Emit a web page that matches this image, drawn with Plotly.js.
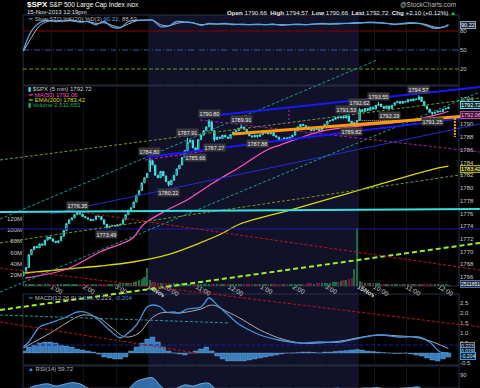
<!DOCTYPE html>
<html><head><meta charset="utf-8">
<script src="https://cdn.plot.ly/plotly-3.0.1.min.js"></script>
<style>html,body{margin:0;padding:0;background:#000;}#chart{width:480px;height:388px;}</style>
</head><body><div id="chart"></div>
<script>
// ---------------- DATA ----------------
// 5-minute bars: 0..46 = 13-Nov 12:05-3:55, 47..124 = 14-Nov, 125..158 = 15-Nov
const closes = [
1766.8,1767.5,1769.5,1770.3,1770.8,1770.6,1771.2,1771.0,1771.8,1772.3,
1772.0,1771.6,1771.4,1771.7,1772.4,1773.3,1774.4,1775.0,1775.3,1775.8,
1776.1,1775.9,1775.5,1775.3,1775.1,1774.9,1775.0,1775.6,1775.5,1775.0,
1774.3,1773.8,1774.0,1774.1,1774.0,1774.2,1774.3,1775.0,1775.8,1776.5,
1776.9,1777.8,1778.9,1779.6,1780.8,1781.6,1782.3,
1784.3,1783.6,1782.0,1781.6,1782.6,1781.9,1781.0,1780.5,1781.2,1782.0,
1783.0,1783.6,1784.8,1785.9,1787.2,1787.5,1786.3,1786.0,1787.6,1788.3,
1789.0,1789.6,1790.5,1789.0,1787.6,1788.0,1787.8,1788.3,1788.0,1787.8,
1788.4,1788.8,1789.0,1789.4,1789.6,1789.2,1788.6,1788.2,1788.0,1788.3,
1788.1,1788.4,1788.6,1788.9,1788.5,1788.7,1788.2,1788.0,1787.6,1787.5,
1787.9,1787.7,1788.0,1788.3,1789.0,1789.6,1790.0,1789.8,1789.6,1789.2,
1789.0,1789.4,1789.2,1789.0,1789.5,1790.0,1790.5,1790.6,1790.8,1791.1,
1791.0,1791.2,1791.0,1791.3,1790.5,1790.0,1790.3,1790.62,
1792.3,1792.0,1792.5,1792.2,1792.7,1792.4,1793.0,1793.2,1792.8,1792.5,
1792.9,1792.5,1793.0,1793.4,1793.6,1793.3,1793.6,1793.5,1793.9,1793.7,
1794.0,1793.9,1794.3,1793.6,1792.9,1792.4,1791.9,1791.7,1791.9,1792.1,
1792.0,1792.4,1792.5,1792.72
];
const sessionOpenBars = [0, 47, 125];
const sessionOpenPrices = [1766.2, 1782.6, 1790.66];
// labelled extremes: bar, kind, price
const extremeBars   = [20,31,47,54,61,64,69,71,81,87,120,122,125,132,136,147,152];
const extremeKinds  = ['H','L','H','L','H','L','H','L','H','L','H','L','H','H','L','H','L'];
const extremePrices = [1776.35,1773.49,1784.80,1780.22,1787.91,1785.66,1790.80,1787.27,1789.91,1787.88,1791.53,1789.82,1792.62,1793.55,1792.19,1794.57,1791.25];

// volume, millions
const volumeM = [
6,4,4,4,3,4,3,3,4,3, 3,3,4,3,3,4,3,3,4,3, 3,3,3,3,4,3,3,3,4,3, 3,4,4,3,4,4,5,5,6,5, 6,7,9,10,12,16,33,
10,8,7,6,6,5,5,5,4,5, 5,4,5,4,4,4,5,4,4,3, 3,3,3,4,3,3,3,3,3,3, 3,3,3,3,3,3,3,3,3,3,
3,3,3,3,3,4,3,3,3,3, 4,4,4,3,4,4,4,4,4,5, 5,4,5,5,6,5,6,6,7,8, 8,9,10,11,12,14,30,103,
9,7,6,6,5,5,5,5,4,4, 4,4,4,4,3,4,3,3,3,3, 3,3,3,4,3,3,3,3,3,3, 3,3,3,2.5
];

// moving averages (read at points along the curves)
const ma50Bars = [0.6,16.2,28.5,40.7,44.4,53.4,60.8,70.5,80.5,90.5,95.4,102.8,111.4,125.1,140,154.9,158];
const ma50Vals = [1765.84,1767.26,1769.93,1772.13,1774.18,1776.53,1778.11,1780.78,1783.30,1785.97,1786.75,1787.86,1788.96,1789.74,1790.37,1791.63,1792.06];
const ema200Bars = [0.6,16.2,28.5,40.7,53.4,65.7,74.2,80.5,99.1,125.1,151.1,158];
const ema200Vals = [1766.63,1767.26,1767.73,1768.36,1769.46,1771.35,1772.92,1774.33,1776.53,1779.68,1782.82,1783.42];

// Slow stochastic
const stoBars = [0,3,6,9,12,15,18,21,24,27,30,33,36,39,42,45,48,51,54,57,60,63,66,69,72,75,78,81,84,87,90,93,96,99,102,105,108,111,114,117,120,123,126,129,132,135,138,141,144,147,150,153,156,158];
const stoK = [50,80,93,97,95,96,97,94,95,90,95,86,85,95,97,97,97,87,88,95,94,93,89,92,91,92,90,91,90,91,90,91,89,90,91,90,91,92,91,92,92,93,93,94,93,92,90,92,93,92,88,84,86,90.22];
const stoD = [48,70,88,95,96,96,96,95,95,92,93,89,86,91,96,97,97,90,88,92,94,93,90,91,91,91,91,90,90,90,90,90,90,90,90,90,91,91,91,91,92,92,93,93,93,92,91,91,92,92,90,86,86,88.63];
const stoLevels = [80,50,20];

// MACD
const macdBars = [0,2,6,10,16,20,24,28,32,36,38,42,46,48,51,53,56,58,61,66,69,72,77,80,88,95,103,110,118,125,132,140,147,151,155,158];
const macdVals = [0.3,0.55,1.3,1.5,1.8,2.05,2.0,1.65,1.15,0.75,0.9,1.4,2.3,2.4,2.3,2.05,2.05,2.0,2.2,2.3,2.75,2.4,1.8,1.45,0.9,0.65,0.5,0.55,0.55,0.75,0.9,0.8,0.8,0.55,0.05,0.019];
const signalBars = [0,10,16,22,28,33,38,43,47,51,58,66,70,76,80,88,95,103,110,118,126,132,140,145,150,155,158];
const signalVals = [0.25,1.0,1.5,1.9,1.75,1.25,0.8,1.0,1.65,2.0,2.0,2.2,2.4,2.05,1.78,1.15,0.75,0.5,0.5,0.6,0.8,0.9,0.85,0.8,0.65,0.4,0.223];
const histBars = [0,2,4,6,8,10,12,14,16,18,20,22,24,26,28,30,32,34,36,38,40,42,44,46,48,50,52,54,56,58,60,62,64,66,68,70,72,74,76,78,80,82,84,86,88,90,92,94,96,98,100,102,104,106,108,110,112,114,116,118,120,122,124,126,128,130,132,134,136,138,140,142,144,146,148,150,152,154,156,158];
const histVals = [
0.1,0.3,0.4,0.5,0.55, 0.55,0.5,0.4,0.35,0.3, 0.2,0.15,0.1,0.05,-0.05, -0.2,-0.25,-0.3,-0.3,-0.2,
0.1,0.3,0.5,0.7,0.8, 0.55,0.3,0.1,0.0,-0.05, -0.1,0.0,0.1,0.2,0.3, 0.1,-0.15,-0.3,-0.4,-0.4,
-0.4,-0.4,-0.35,-0.3,-0.25, -0.2,-0.15,-0.1,-0.05,0.0, 0.0,0.02,0.05,0.05,0.03, 0.0,0.05,0.05,0.08,0.1,
0.12,0.15,0.18,0.15,0.1, 0.08,0.05,0.02,0.0,-0.02, -0.02,0.0,-0.05,-0.1,-0.15, -0.25,-0.35,-0.4,-0.3,-0.204];
const macdLevel = [0.4];

// RSI(14)
const rsiBars = stoBars;
const rsiVals = [55,68,72,74,70,73,76,74,66,62,55,50,52,64,78,83,85,70,60,66,72,70,74,75,62,60,62,63,58,58,60,56,54,57,62,61,60,60,64,66,62,60,66,66,67,63,65,66,67,68,58,55,58,59.72];

// drawn trend lines: [bar, price] end points
const cyanLevel  = [[-8.7,1776.22],[169.7,1776.69]];
const blueUpper  = [[65.7,1791.16],[169.7,1795.87]];
const blueLower  = [[45.9,1784.87],[169.7,1791.31]];
const blueThin   = [[9.9,1775.91],[169.7,1790.06]];
const blueLevel  = [[-8.7,1773.55],[169.7,1773.55]];
const tealA      = [[-8.7,1775.12],[131.5,1800.12]];
const tealB      = [[-8.7,1763.64],[169.7,1795.09]];
const oliveA     = [[-8.7,1784.40],[169.7,1794.14]];
const oliveB     = [[-8.7,1771.35],[169.7,1782.51]];
const limeC      = [[-8.7,1760.81],[169.7,1771.35]];
const redA       = [[16.2,1776.53],[169.7,1767.10]];
const redB       = [[-8.7,1767.42],[169.7,1758.14]];
const purpleA    = [[65.7,1790.69],[169.7,1785.65]];
const purpleB    = [[45.2,1784.40],[70.1,1785.97]];
const purpleV    = [[98.7,1792.26],[98.7,1790.06]];
const orangeA    = [[77.9,1788.48],[169.7,1791.47]];
const orangeV    = [[160.4,1791.0],[160.4,1788.0]];
const prevClose  = [[124.5,1790.62],[142,1790.62]];
// trend lines drawn in MACD units
const tealMacd   = [[-8.7,1.9],[76.8,1.5]];
const redMacd    = [[-8.7,1.55],[64.5,0.0]];

const tickBars = [10.5,22.5,34.5,46.5,52.5,64.5,76.5,88.5,100.5,112.5,124.5,130.5,142.5,154.5];
const tickText = ['1:00','2:00','3:00','<b>14Nov</b>','10:00','11:00','12:00','1:00','2:00','3:00','<b>15Nov</b>','10:00','11:00','12:00'];
const priceTicks = [1766,1768,1770,1772,1774,1776,1778,1780,1782,1784,1786,1788,1790,1794];
const volTicksM = [20,40,60,80,100,120];
const macdTicks = [-0.5,0.5,1.0,1.5,2.0,2.5];
const rsiTicks = [70,90];
const day2Bars = [46.5,124.5];

// ---------------- SCALES ----------------
const W=480,H=388;
const PX0=23.4, PXB=2.69;
const idxAt=px=>(px-PX0)/PXB;
const priceAt=py=>1766+(277-py)/6.36;
const stoAt=py=>20+(69-py)*60/38;
const macdAt=py=>(353-py)/20;
const rsiAt=py=>70+(386-py)*20/11;
const volAt=py=>(286-py)*20e6/11.2;
const dom=(t,b)=>[1-b/H,1-t/H];
const P={sto:[15,85],price:[86,286],macd:[294,365],rsi:[366,388]};
const XL=23/W, XR=459/W;
const F='Liberation Sans, Arial, sans-serif';

// ---------------- BUILD ----------------
const bars = closes.map((_,i)=>i);
const opens = closes.map((c,i)=>{const k=sessionOpenBars.indexOf(i);return k>=0?sessionOpenPrices[k]:closes[i-1];});
const highs = closes.map((c,i)=>Math.max(c,opens[i]));
const lows  = closes.map((c,i)=>Math.min(c,opens[i]));
extremeBars.forEach((b,k)=>{ if(extremeKinds[k]==='H') highs[b]=Math.max(highs[b],extremePrices[k]); else lows[b]=Math.min(lows[b],extremePrices[k]); });

const traces=[];
traces.push({type:'bar',x:bars,y:volumeM.map(v=>v*1e6),xaxis:'x',yaxis:'y3',width:0.8,
  marker:{color:closes.map((c,i)=>c>=opens[i]?'#1d6b45':'#6b1d3a'),line:{width:0}},hoverinfo:'skip'});
traces.push({type:'scatter',mode:'lines',x:ema200Bars,y:ema200Vals,xaxis:'x',yaxis:'y2',line:{color:'#d8d800',width:1.3,shape:'spline'},hoverinfo:'skip'});
traces.push({type:'scatter',mode:'lines',x:ma50Bars,y:ma50Vals,xaxis:'x',yaxis:'y2',line:{color:'#ff4fc0',width:1.3,shape:'spline'},hoverinfo:'skip'});
traces.push({type:'candlestick',x:bars,open:opens,high:highs,low:lows,close:closes,xaxis:'x',yaxis:'y2',
  increasing:{line:{color:'#3fe3e3',width:1},fillcolor:'#063838'},
  decreasing:{line:{color:'#3fe3e3',width:1},fillcolor:'#3fe3e3'},whiskerwidth:0,hoverinfo:'skip'});
traces.push({type:'scatter',mode:'lines',x:stoBars,y:stoD,xaxis:'x',yaxis:'y',line:{color:'#b8b8b8',width:1,shape:'spline'},hoverinfo:'skip'});
traces.push({type:'scatter',mode:'lines',x:stoBars,y:stoK,xaxis:'x',yaxis:'y',line:{color:'#4fa8ec',width:1.3,shape:'spline'},hoverinfo:'skip'});
traces.push({type:'bar',x:histBars,y:histVals,xaxis:'x',yaxis:'y4',width:1.8,marker:{color:'#3a7fbf',line:{color:'#6fb2e6',width:0.4}},hoverinfo:'skip'});
traces.push({type:'scatter',mode:'lines',x:[idxAt(23),idxAt(459)],y:[macdLevel[0],macdLevel[0]],xaxis:'x',yaxis:'y4',line:{color:'#1a1aa0',width:1,dash:'4px,2px'},hoverinfo:'skip'});
traces.push({type:'scatter',mode:'lines',x:signalBars,y:signalVals,xaxis:'x',yaxis:'y4',line:{color:'#aaaaaa',width:1,shape:'spline'},hoverinfo:'skip'});
traces.push({type:'scatter',mode:'lines',x:macdBars,y:macdVals,xaxis:'x',yaxis:'y4',line:{color:'#3f95e0',width:1.3,shape:'spline'},hoverinfo:'skip'});
traces.push({type:'scatter',mode:'lines',x:rsiBars,y:rsiVals,xaxis:'x',yaxis:'y5',fill:'tozeroy',fillcolor:'rgba(58,127,191,0.85)',line:{color:'#6fb2e6',width:1,shape:'spline'},hoverinfo:'skip'});

function tl(pts,color,width,dash,yaxis){
  traces.push({type:'scatter',mode:'lines',x:pts.map(p=>p[0]),y:pts.map(p=>p[1]),xaxis:'x9',yaxis:yaxis||'y9',
    line:{color:color,width:width,dash:dash||'solid'},hoverinfo:'skip'});
}
tl(blueLevel,'#1c1ca8',1);
tl(blueThin,'#2030d0',1);
tl(tealA,'#1a9c9c',1,'3px,2px');
tl(tealB,'#1a9c9c',1,'3px,2px');
tl(oliveA,'#6f9c1a',1,'3px,2px');
tl(oliveB,'#6f9c1a',1,'3px,2px');
tl(limeC,'#9ef025',2,'5px,3px');
tl(redA,'#c01414',1,'3px,2px');
tl(redB,'#c01414',1,'3px,2px');
tl(purpleA,'#a820a8',1,'3px,2px');
tl(purpleB,'#b020b0',1.2,'3px,2px');
tl(purpleV,'#c020c0',1,'2px,2px');
tl(prevClose,'#bbbbbb',1,'1px,1px');
tl(cyanLevel,'#36e0e0',2);
tl(blueUpper,'#1818ff',2);
tl(blueLower,'#1818ff',2);
tl(orangeA,'#ff9a00',3);
tl(orangeV,'#ff9a00',2,'2px,1px');
tl(tealMacd,'#1a9c9c',1,'3px,2px','y10');
tl(redMacd,'#c01414',1,'3px,2px','y10');

// ---------------- LAYOUT ----------------
const ax={showgrid:false,zeroline:false,showline:false,fixedrange:true,ticks:'',tickfont:{family:F,size:6,color:'#c8c8c8'}};
const shapes=[];
shapes.push({type:'rect',xref:'x',yref:'paper',x0:day2Bars[0],x1:day2Bars[1],y0:0,y1:1-P.sto[0]/H,fillcolor:'#111129',line:{width:0},layer:'below'});
Object.keys(P).forEach(k=>{const d=dom(P[k][0],P[k][1]);
  shapes.push({type:'rect',xref:'paper',yref:'paper',x0:XL,x1:XR,y0:d[0],y1:Math.min(d[1],1),line:{color:'#2a3246',width:1},fillcolor:'rgba(0,0,0,0)',layer:'below'});});
const stoStyles=[{c:'#8c0000',d:'solid'},{c:'#2c5f9f',d:'6px,2px,1px,2px'},{c:'#5f9f1a',d:'4px,2px'}];
stoLevels.forEach((v,k)=>shapes.push({type:'line',xref:'paper',yref:'y',x0:XL,x1:XR,y0:v,y1:v,line:{color:stoStyles[k].c,width:1,dash:stoStyles[k].d},layer:'below'}));

const ann=[];
const px=x=>x/W, py=y=>1-y/H;
function txt(x,y,t,opt){ann.push(Object.assign({xref:'paper',yref:'paper',x:px(x),y:py(y),text:t,showarrow:false,xanchor:'left',yanchor:'middle',font:{family:F,size:6,color:'#d0d0d0'}},opt||{}));}
txt(25,5,'<span style="font-size:8px"><b>$SPX</b></span> S&P 500 Large Cap Index <span style="font-size:5px">INDX</span>',{font:{family:F,size:6.5,color:'#ffffff'}});
txt(25,12.5,'15-Nov-2013 12:19pm',{font:{family:F,size:6,color:'#e0e0e0'}});
txt(458,5,'@StockCharts.com',{xanchor:'right',font:{family:F,size:6.5,color:'#bbbbbb'}});
txt(458,12.5,'<b>Open</b> 1790.66  <b>High</b> 1794.57  <b>Low</b> 1790.66  <b>Last</b> 1792.72  <b>Chg</b> +2.10 (+0.12%) <span style="color:#22cc22">▲</span>',{xanchor:'right',font:{family:F,size:6.2,color:'#e8e8e8'}});
txt(26,18.5,'<span style="color:#4fa8ec">━</span> Slow STO %K(20) %D(3) <span style="color:#4fa8ec">90.22</span>, 88.63',{font:{family:F,size:6,color:'#b8b8b8'}});
txt(26,89,'<span style="color:#3fe3e3">▮</span> $SPX (5 min) 1792.72',{font:{family:F,size:6,color:'#d0d0d0'}});
txt(26,94.5,'━ MA(50) 1792.06',{font:{family:F,size:6,color:'#ff4fc0'}});
txt(26,100,'━ EMA(200) 1783.42',{font:{family:F,size:6,color:'#d8d800'}});
txt(26,105.5,'▮ Volume 2,511,651',{font:{family:F,size:6,color:'#22b070'}});
txt(26,298,'<span style="color:#3f95e0">━</span> MACD(12,26,9) <span style="color:#3f95e0">0.019</span>, 0.223, <span style="color:#3f95e0">-0.204</span>',{font:{family:F,size:6,color:'#b8b8b8'}});
txt(26,369,'<span style="color:#3f95e0">▲</span> RSI(14) 59.72',{font:{family:F,size:6,color:'#b8b8b8'}});

function box(yref,y,t,fg,bg,bd,ys,fs){ann.push({xref:'paper',yref:yref,x:460/W,y:y,text:t,showarrow:false,xanchor:'left',yanchor:'middle',yshift:ys||0,
  font:{family:F,size:fs||5.5,color:fg},bgcolor:bg,bordercolor:bd,borderwidth:1,borderpad:0});}
box('y',stoK[stoK.length-1],'90.22','#ffffff','#1c2a3a','#8aa0b8');
box('y2',ma50Vals[ma50Vals.length-1],'1792.06','#ffc0f0','#3a0c32','#c040a0',-4);
box('y2',closes[closes.length-1],'1792.72','#ffffff','#0c2c34','#3fe3e3',2);
box('y2',ema200Vals[ema200Vals.length-1],'1783.42','#ffffa0','#2c2c08','#a8a820',-2.5);
box('y3',volumeM[volumeM.length-1]*1e6,'2511651','#ffffff','#1c2c44','#5070a0',1,5);
box('y4',signalVals[signalVals.length-1],'0.223','#dddddd','#202020','#888888',2.5,5);
box('y4',macdVals[macdVals.length-1],'0.019','#cfe6ff','#102438','#3f95e0',1.5,5);
box('y4',histVals[histVals.length-1],'-0.204','#cfe6ff','#102438','#3f95e0',1.5,5);

extremeBars.forEach((b,k)=>{const hi=extremeKinds[k]==='H';
  ann.push({xref:'x',yref:'y2',x:b,y:extremePrices[k],text:extremePrices[k].toFixed(2),showarrow:false,xanchor:'center',
   yanchor:hi?'bottom':'top',yshift:hi?1:-1,font:{family:F,size:5.5,color:'#e8e8e8'},bgcolor:'#3a3a3e',borderpad:0.5});});

const layout={
  width:W,height:H,margin:{l:0,r:0,t:0,b:0,pad:0},paper_bgcolor:'#000000',plot_bgcolor:'rgba(0,0,0,0)',
  showlegend:false,font:{family:F,size:6,color:'#c8c8c8'},bargap:0,
  xaxis:Object.assign({},ax,{domain:[XL,XR],range:[idxAt(23),idxAt(459)],anchor:'free',position:1-281/H,tickvals:tickBars,ticktext:tickText,
     showgrid:true,gridcolor:'#121219',gridwidth:1,rangeslider:{visible:false},tickfont:{family:F,size:6.5,color:'#d0d0d0'}}),
  yaxis:Object.assign({},ax,{domain:dom(...P.sto),range:[stoAt(P.sto[1]),stoAt(P.sto[0])],anchor:'x',side:'right',tickvals:stoLevels}),
  yaxis2:Object.assign({},ax,{domain:dom(...P.price),range:[priceAt(P.price[1]),priceAt(P.price[0])],anchor:'x',side:'right',tickvals:priceTicks}),
  yaxis3:Object.assign({},ax,{overlaying:'y2',range:[0,volAt(P.price[0])],anchor:'x',side:'left',tickvals:volTicksM.map(v=>v*1e6),ticktext:volTicksM.map(v=>v+'M')}),
  yaxis4:Object.assign({},ax,{domain:dom(...P.macd),range:[macdAt(P.macd[1]),macdAt(P.macd[0])],anchor:'x',side:'right',tickvals:macdTicks,ticktext:macdTicks.map(v=>v.toFixed(1))}),
  yaxis5:Object.assign({},ax,{domain:[0,1-P.rsi[0]/H],range:[rsiAt(P.rsi[1]),rsiAt(P.rsi[0])],anchor:'x',side:'right',tickvals:rsiTicks}),
  xaxis9:{domain:[0,1],range:[idxAt(0),idxAt(W)],anchor:'y9',visible:false,fixedrange:true},
  yaxis9:{domain:[0,1],range:[priceAt(H),priceAt(0)],anchor:'x9',visible:false,fixedrange:true},
  yaxis10:{domain:[0,1],range:[macdAt(H),macdAt(0)],anchor:'x9',overlaying:'y9',visible:false,fixedrange:true},
  shapes:shapes,annotations:ann
};
Plotly.newPlot('chart',traces,layout,{staticPlot:true,displayModeBar:false});
</script></body></html>
